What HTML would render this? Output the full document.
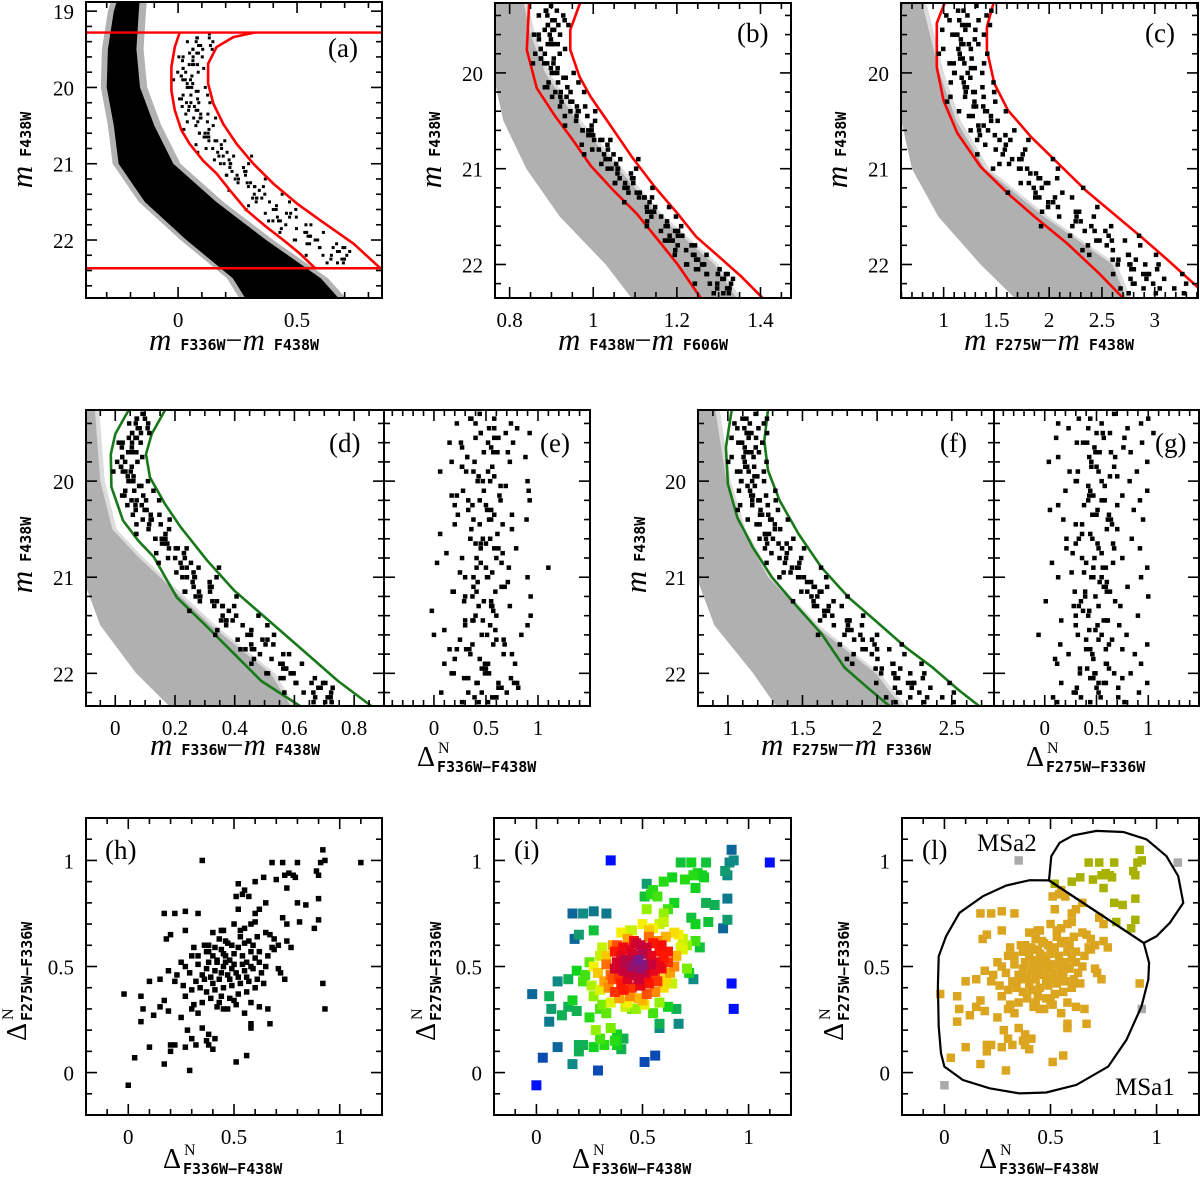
<!DOCTYPE html>
<html><head><meta charset="utf-8"><style>
html,body{margin:0;padding:0;background:#fff;}
svg{display:block;}
text{font-family:"Liberation Serif",serif;fill:#000;}
.tl{font-size:21px;}
.sub{font-family:"DejaVu Sans Mono","Liberation Mono",monospace;font-weight:bold;font-size:15px;}
.mi{font-style:italic;font-size:31px;}
.pl{font-size:27px;}
</style></head><body>
<svg id="fig" width="1200" height="1181" viewBox="0 0 1200 1181" xmlns="http://www.w3.org/2000/svg">
<defs id="defs"></defs>
<g id="root"></g>
</svg>
<script>
// ---------- data ----------
// stars: [mF438W, dN_F336W-F438W, dN_F275W-F336W]
const stars = [
[19.35,0.35,1.00],[20.9,1.10,0.99],[19.5,0.92,1.05],[21.2,0.93,1.00],[20.1,0.91,0.99],[21.7,0.68,0.99],[19.8,0.73,0.99],[22.1,0.80,0.99],[20.4,0.89,0.95],[21.0,0.90,0.93],[19.6,0.76,0.94],[21.9,0.78,0.93],[20.7,0.79,0.92],[19.4,0.74,0.93],[22.2,0.70,0.91],[20.2,0.64,0.92],[21.4,0.60,0.90],[19.9,0.52,0.89],[20.6,0.54,0.84],[21.8,0.75,0.87],[19.7,0.57,0.83],[22.0,0.51,0.83],[20.3,0.55,0.86],[21.1,0.65,0.80],[19.45,0.80,0.80],[21.6,0.84,0.79],[20.0,0.90,0.82],[22.3,0.52,0.77],[20.8,0.60,0.75],[19.55,0.62,0.77],[21.3,0.73,0.73],[20.5,0.75,0.70],[22.15,0.81,0.71],[19.75,0.88,0.68],[21.5,0.90,0.72],
[20.15,0.17,0.75],[21.75,0.22,0.75],[19.65,0.27,0.76],[22.05,0.33,0.75],[20.45,0.20,0.65],[21.15,0.18,0.63],[19.85,0.27,0.67],[21.45,0.38,0.60],[20.65,0.40,0.66],[19.3,0.44,0.67],[21.95,0.46,0.62],[20.25,0.50,0.70],[21.25,0.55,0.68],[19.95,0.58,0.70],[22.25,0.60,0.71],[20.85,0.65,0.66],[21.65,0.67,0.65],[19.5,0.69,0.63],[20.35,0.75,0.62],[21.05,0.71,0.60],[22.1,0.77,0.59],[20.05,0.69,0.58],
[21.35,-0.02,0.37],[20.55,0.06,0.36],[22.2,0.07,0.30],[19.9,0.06,0.24],[21.55,0.10,0.43],[20.75,0.12,0.27],[19.6,0.15,0.31],[22.0,0.17,0.34],[21.15,0.19,0.29],[20.25,0.20,0.13],[21.85,0.20,0.10],[19.4,0.22,0.13],[20.95,0.25,0.26],[22.3,0.27,0.12],[20.1,0.28,0.20],[21.45,0.30,0.16],[19.75,0.32,0.13],[20.6,0.35,0.21],[21.7,0.37,0.15],[20.4,0.38,0.18],[22.1,0.41,0.16],[19.55,0.40,0.11],[21.0,0.38,0.13],[20.85,0.03,0.07],[21.9,0.10,0.12],[19.8,0.17,0.04],[21.25,0.29,0.01],[20.3,0.51,0.05],[22.25,0.56,0.08],[21.6,0.00,-0.06],[20.7,0.58,0.21],[19.45,0.58,0.23],[21.8,0.67,0.23],[20.2,0.92,0.42],[21.4,0.93,0.30],[22.05,0.74,0.44],[19.7,0.71,0.49],[20.9,0.72,0.47],[21.1,0.68,0.59],[20.45,0.66,0.30],[22.15,0.62,0.31],[19.35,0.58,0.33],[21.3,0.55,0.28],[20.65,0.45,0.30],[21.95,0.50,0.34],[20.0,0.42,0.31],[21.5,0.30,0.30],[19.9,0.31,0.32],[22.2,0.33,0.28],[20.8,0.27,0.36],[21.2,0.30,0.39],[19.6,0.26,0.41],[20.35,0.23,0.46],[21.65,0.25,0.52],[22.0,0.19,0.48],[20.15,0.22,0.43],[21.0,0.30,0.55],[19.85,0.27,0.50],[21.75,0.15,0.44],
[20.5,0.36,0.60],[21.1,0.38,0.57],[19.4,0.40,0.55],[22.1,0.42,0.52],[20.2,0.44,0.58],[21.6,0.46,0.55],[19.7,0.48,0.53],[20.9,0.50,0.56],[21.9,0.52,0.59],[20.0,0.54,0.55],[21.3,0.56,0.52],[19.55,0.58,0.57],[22.25,0.60,0.54],[20.7,0.62,0.52],[21.45,0.47,0.61],[19.95,0.43,0.63],[20.4,0.53,0.64],[21.7,0.57,0.62],[22.0,0.49,0.49],[19.5,0.45,0.50],[20.8,0.41,0.48],[21.2,0.37,0.49],[20.3,0.33,0.51],[21.8,0.35,0.46],[19.8,0.39,0.45],[22.3,0.43,0.44],[20.6,0.47,0.46],[21.0,0.51,0.47],[19.65,0.55,0.48],[21.55,0.59,0.49],[20.15,0.63,0.47],[22.15,0.65,0.50],[20.55,0.61,0.44],[21.35,0.57,0.43],[19.45,0.53,0.42],[21.95,0.49,0.41],[20.85,0.45,0.40],[21.15,0.41,0.39],[20.25,0.37,0.38],[21.75,0.34,0.40],[19.75,0.32,0.43],[22.05,0.29,0.47],[20.45,0.44,0.36],[21.25,0.48,0.35],[19.6,0.52,0.37],[20.95,0.56,0.38],[21.65,0.60,0.40],[20.05,0.64,0.42],[22.2,0.46,0.52],[20.65,0.50,0.51],[21.05,0.42,0.53],[19.9,0.38,0.52],[21.5,0.54,0.51],[20.35,0.58,0.50],[22.1,0.62,0.57],[20.75,0.66,0.55],[21.4,0.40,0.42],[19.35,0.36,0.44],[21.85,0.44,0.47],[20.1,0.48,0.44],[21.0,0.52,0.45],[19.85,0.56,0.45],[22.25,0.39,0.35],[20.6,0.35,0.33],[21.3,0.43,0.33],[20.0,0.47,0.30],[21.6,0.51,0.32],[19.5,0.45,0.56],[20.9,0.41,0.59],[21.9,0.49,0.60],[20.4,0.55,0.61],[21.15,0.59,0.60],[19.7,0.61,0.64],[22.0,0.53,0.67],[20.7,0.45,0.67],[21.45,0.37,0.57],[20.2,0.33,0.55],[21.75,0.31,0.59]
];
// fiducial lines [mag, color]
const aBlueMag=[19.28,19.47,19.73,20.04,20.30,20.56,20.74,20.96,21.13,21.35,21.61,21.83,22.00,22.18,22.37];
const aBlueCol=[0.007,-0.014,-0.028,-0.028,-0.014,0.014,0.049,0.105,0.162,0.218,0.288,0.372,0.442,0.513,0.576];
const aRedMag=[19.28,19.34,19.47,19.69,19.95,20.21,20.48,20.74,21.0,21.26,21.52,21.74,22.05,22.37];
const aRedCol=[0.323,0.232,0.162,0.126,0.126,0.148,0.19,0.246,0.316,0.4,0.499,0.597,0.738,0.85];
const aCuts=[19.28,22.37];
const aMsMag=[18.8,19.0,19.5,20.0,20.5,21.0,21.5,22.0,22.5,22.85];
const aMsLo=[-0.25,-0.27,-0.295,-0.3,-0.27,-0.25,-0.14,0.035,0.23,0.3];
const aMsHi=[-0.16,-0.165,-0.175,-0.16,-0.1,-0.02,0.16,0.37,0.6,0.7];

const bLMag=[19.24,19.76,20.16,20.44,20.70,20.97,21.23,21.47,21.76,22.0,22.35];
const bLCol=[0.847,0.841,0.865,0.907,0.951,0.994,1.049,1.104,1.158,1.202,1.257];
const bRMag=[19.24,19.55,19.76,20.04,20.25,20.56,20.88,21.19,21.47,21.71,21.92,22.13,22.35];
const bRCol=[0.971,0.945,0.945,0.967,0.994,1.043,1.093,1.147,1.202,1.246,1.301,1.355,1.405];
const bMsMag=[19.2,19.6,20.0,20.5,21.0,21.5,22.0,22.4];
const bMsLo=[0.76,0.76,0.76,0.785,0.84,0.92,1.03,1.1];
const bMsHi=[0.83,0.85,0.885,0.96,1.06,1.16,1.29,1.35];

const cLMag=[19.24,19.48,19.94,20.29,20.63,20.98,21.26,21.51,21.78,22.1,22.35];
const cLCol=[1.02,0.935,0.935,1.0,1.13,1.35,1.61,1.87,2.17,2.48,2.70];
const cRMag=[19.24,19.52,19.76,20.11,20.39,20.67,20.95,21.23,21.47,21.71,21.96,22.24,22.4];
const cRCol=[1.48,1.41,1.41,1.48,1.61,1.83,2.09,2.35,2.61,2.87,3.13,3.41,3.55];
const cMsMag=[19.2,20.0,20.5,21.0,21.5,22.0,22.4];
const cMsLo=[0.59,0.59,0.6,0.7,0.95,1.35,1.72];
const cMsHi=[0.78,0.96,1.12,1.39,1.95,2.6,2.75];

const dLMag=[19.26,19.51,19.72,20.06,20.41,20.62,20.79,21.21,21.52,21.80,22.08,22.35];
const dLCol=[0.045,0,-0.015,-0.013,0.026,0.077,0.129,0.206,0.309,0.399,0.489,0.624];
const dRMag=[19.26,19.51,19.72,19.96,20.24,20.48,20.83,21.14,21.45,21.80,22.08,22.35];
const dRCol=[0.167,0.122,0.103,0.116,0.167,0.219,0.309,0.399,0.514,0.643,0.746,0.862];
const dMsMag=[19.2,20.0,20.5,20.8,21.0,21.5,22.0,22.4];
const dMsLo=[-0.11,-0.11,-0.11,-0.11,-0.11,-0.05,0.07,0.2];
const dMsHi=[-0.07,-0.05,-0.01,0.08,0.15,0.32,0.52,0.6];

const fLMag=[19.26,19.65,20.03,20.38,20.69,21.0,21.28,21.59,21.94,22.15,22.35];
const fLCol=[1.026,0.987,1.0,1.064,1.167,1.295,1.449,1.628,1.782,1.936,2.09];
const fRMag=[19.26,19.58,19.89,20.2,20.55,20.9,21.21,21.45,21.73,21.94,22.18,22.35];
const fRCol=[1.269,1.244,1.269,1.346,1.474,1.628,1.808,1.987,2.192,2.372,2.551,2.692];
const fMsMag=[19.2,20.0,20.5,21.0,21.5,22.0,22.4];
const fMsLo=[0.79,0.79,0.79,0.79,0.91,1.17,1.35];
const fMsHi=[0.91,0.99,1.09,1.27,1.58,1.99,2.19];

const msa1X=[0.493,0.402,0.291,0.181,0.071,0.008,-0.027,-0.031,-0.027,-0.016,0,0.087,0.213,0.354,0.48,0.622,0.772,0.858,0.929,0.961,0.965,0.940];
const msa1Y=[0.906,0.907,0.882,0.831,0.753,0.643,0.548,0.406,0.217,0.091,0.028,-0.035,-0.074,-0.098,-0.094,-0.058,0.028,0.154,0.312,0.438,0.517,0.611];
const msa2X=[0.493,0.504,0.543,0.606,0.717,0.843,0.953,1.047,1.102,1.126,1.063,1.0,0.940];
const msa2Y=[0.906,1.020,1.083,1.118,1.139,1.134,1.099,1.020,0.926,0.8,0.706,0.643,0.611];

const cmdTicks=['19','20','21','22'];
const deltaTicks=['0','0.5','1'];

// ---------- helpers ----------
const NS='http://www.w3.org/2000/svg';
const root=document.getElementById('root');
const defs=document.getElementById('defs');
function mk(tag,attrs,parent){const e=document.createElementNS(NS,tag);for(const k in attrs)e.setAttribute(k,attrs[k]);(parent||root).appendChild(e);return e;}
function interp(xs,ys,v){if(v<=xs[0])return ys[0]+(ys[1]-ys[0])*(v-xs[0])/(xs[1]-xs[0]);const n=xs.length;if(v>=xs[n-1])return ys[n-1]+(ys[n-1]-ys[n-2])*(v-xs[n-1])/(xs[n-1]-xs[n-2]);for(let i=1;i<n;i++){if(v<=xs[i]){const t=(v-xs[i-1])/(xs[i]-xs[i-1]);return ys[i-1]+t*(ys[i]-ys[i-1]);}}}

const panels={
 a:{box:[86,2,382,298],x:[-0.387,0.857],y:[18.88,22.76],xs:0.1,xm:0.5,ys:0.2,ym:1,xl:['0','0.5'],yl:cmdTicks},
 b:{box:[495,3,791,298],x:[0.765,1.473],y:[19.27,22.35],xs:0.05,xm:0.2,ys:0.2,ym:1,xl:['0.8','1','1.2','1.4'],yl:cmdTicks.slice(1)},
 c:{box:[901,3,1198,298],x:[0.596,3.41],y:[19.27,22.35],xs:0.1,xm:0.5,ys:0.2,ym:1,xl:['1','1.5','2','2.5','3'],yl:cmdTicks.slice(1)},
 d:{box:[86,410,384,706],x:[-0.098,0.9],y:[19.26,22.34],xs:0.05,xm:0.2,ys:0.2,ym:1,xl:['0','0.2','0.4','0.6','0.8'],yl:cmdTicks.slice(1)},
 e:{box:[384,410,590,706],x:[-0.48,1.5],y:[19.26,22.34],xs:0.1,xm:0.5,ys:0.2,ym:1,xl:deltaTicks,yl:[]},
 f:{box:[698,410,994,706],x:[0.8,2.783],y:[19.26,22.34],xs:0.1,xm:0.5,ys:0.2,ym:1,xl:['1','1.5','2','2.5'],yl:cmdTicks.slice(1)},
 g:{box:[994,410,1199,706],x:[-0.49,1.49],y:[19.26,22.34],xs:0.1,xm:0.5,ys:0.2,ym:1,xl:deltaTicks,yl:[]},
 h:{box:[86,818,382,1115],x:[-0.2,1.2],y:[1.2,-0.2],xs:0.1,xm:0.5,ys:0.1,ym:0.5,xl:deltaTicks,yl:deltaTicks},
 i:{box:[494,818,791,1115],x:[-0.2,1.2],y:[1.2,-0.2],xs:0.1,xm:0.5,ys:0.1,ym:0.5,xl:deltaTicks,yl:deltaTicks},
 l:{box:[902,818,1199,1115],x:[-0.2,1.2],y:[1.2,-0.2],xs:0.1,xm:0.5,ys:0.1,ym:0.5,xl:deltaTicks,yl:deltaTicks}
};
for(const k in panels){const p=panels[k];const [x0,y0,x1,y1]=p.box;
 p.sx=v=>x0+(v-p.x[0])/(p.x[1]-p.x[0])*(x1-x0);
 p.sy=v=>y0+(v-p.y[0])/(p.y[1]-p.y[0])*(y1-y0);
 const cp=mk('clipPath',{id:'clip-'+k},defs);mk('rect',{x:x0,y:y0,width:x1-x0,height:y1-y0},cp);
 p.g=mk('g',{'clip-path':'url(#clip-'+k+')'});
 
 
}
function band(p,mags,lo,hi,fill,op,name){
 let d='';mags.forEach((m,i)=>{d+=(i?'L':'M')+p.sx(lo[i]).toFixed(1)+','+p.sy(m).toFixed(1);});
 for(let i=mags.length-1;i>=0;i--)d+='L'+p.sx(hi[i]).toFixed(1)+','+p.sy(mags[i]).toFixed(1);
 const e=mk('path',{d:d+'Z',fill:fill,'fill-opacity':op},p.g);
 
 
}
function line(p,ys,xs,color,name){
 let d='';ys.forEach((m,i)=>{d+=(i?'L':'M')+p.sx(xs[i]).toFixed(1)+','+p.sy(m).toFixed(1);});
 const e=mk('path',{d:d,fill:'none',stroke:color,'stroke-width':2.6,'stroke-linejoin':'round'},p.g);
 
 
}
function sq(p,x,y,s,color,name){
 const e=mk('rect',{x:(p.sx(x)-s/2).toFixed(1),y:(p.sy(y)-s/2).toFixed(1),width:s,height:s,fill:color},p.g);
 
 
 return e;
}
function frame(k){const p=panels[k];const [x0,y0,x1,y1]=p.box;
 const g=mk('g',{stroke:'#000','stroke-width':1.6,fill:'none'});
 
 
 mk('rect',{x:x0,y:y0,width:x1-x0,height:y1-y0,'stroke-width':2},g);
 const isMaj=(v,m)=>Math.abs(v/m-Math.round(v/m))<1e-6;
 for(let v=Math.ceil(p.x[0]/p.xs-1e-9)*p.xs;v<=p.x[1]+1e-9;v+=p.xs){const X=p.sx(v);const L=isMaj(v,p.xm)?11:6;
  mk('line',{x1:X,x2:X,y1:y1,y2:y1-L},g);mk('line',{x1:X,x2:X,y1:y0,y2:y0+L},g);}
 const ya=Math.min(p.y[0],p.y[1]),yb=Math.max(p.y[0],p.y[1]);
 for(let v=Math.ceil(ya/p.ys-1e-9)*p.ys;v<=yb+1e-9;v+=p.ys){const Y=p.sy(v);const L=isMaj(v,p.ym)?11:6;
  mk('line',{x1:x0,x2:x0+L,y1:Y,y2:Y},g);mk('line',{x1:x1,x2:x1-L,y1:Y,y2:Y},g);}
 p.xl.forEach(s=>{const t=mk('text',{x:p.sx(parseFloat(s)),y:y1+29,'text-anchor':'middle',class:'tl'});t.textContent=s;
  });
 p.yl.forEach(s=>{const t=mk('text',{x:x0-12,y:p.sy(parseFloat(s))+8,'text-anchor':'end',class:'tl'});t.textContent=s;
  });
}
function plabel(k,x,y,s){const t=mk('text',{x:x,y:y,class:'pl'});t.textContent=s;
 }
function magTitle(cx,cy){
 const t=mk('text',{transform:'translate('+cx+','+cy+') rotate(-90)','text-anchor':'middle'});
 
 t.innerHTML='<tspan class="mi">m</tspan><tspan class="sub" dy="-1"> F438W</tspan>';}
function colTitle(cx,y,a,b){
 const t=mk('text',{x:cx,y:y,'text-anchor':'middle'});
 
 t.innerHTML='<tspan class="mi">m</tspan><tspan class="sub"> '+a+'</tspan><tspan style="font-size:30px">−</tspan><tspan class="mi">m</tspan><tspan class="sub"> '+b+'</tspan>';}
function deltaTitle(cx,y,sub,rot){
 const g=mk('g',{transform:rot?'translate('+cx+','+y+') rotate(-90)':'translate('+cx+','+y+')'});
 
 const w=110;
 const t1=mk('text',{x:-w/2-20,y:0,'font-size':'28px'},g);t1.textContent='Δ';
 const t2=mk('text',{x:-w/2+1,y:-13,'font-size':'16px'},g);t2.textContent='N';
 const t3=mk('text',{x:-w/2,y:6,class:'sub'},g);t3.textContent=sub;
}

// ---------- panel a ----------
{const p=panels.a;
 band(p,aMsMag,aMsLo.map(v=>v-0.025),aMsHi.map(v=>v+0.03),'#000',0.3,'main-sequence-halo');
 band(p,aMsMag,aMsLo,aMsHi,'#000',1,'main-sequence-band');
 stars.forEach(s=>{const L=interp(aBlueMag,aBlueCol,s[0]),R=interp(aRedMag,aRedCol,s[0]);sq(p,L+s[1]*(R-L),s[0],3,'#000','star-point');});
 line(p,aBlueMag,aBlueCol,'#ff0000','selection-line-blue');
 line(p,aRedMag,aRedCol,'#ff0000','selection-line-red');
 aCuts.forEach(m=>{const e=mk('line',{x1:86,x2:382,y1:p.sy(m),y2:p.sy(m),stroke:'#ff0000','stroke-width':2.4},p.g);
  });
}
// ---------- b,c,d,f ----------
function cmd(k,msM,lo,hi,LM,LC,RM,RC,di,lc){const p=panels[k];
 band(p,msM,lo,hi.map(v=>v+0.015*(p.x[1]-p.x[0])),'#c4c4c4',0.6,'gray-sequence-halo');
 band(p,msM,lo,hi,'#b0b0b0',1,'gray-sequence-band');
 line(p,LM,LC,lc,'fiducial-line-blue');line(p,RM,RC,lc,'fiducial-line-red');
 stars.forEach(s=>{const L=interp(LM,LC,s[0]),R=interp(RM,RC,s[0]);sq(p,L+s[di]*(R-L),s[0],4.5,'#000','star-point');});
}
cmd('b',bMsMag,bMsLo,bMsHi,bLMag,bLCol,bRMag,bRCol,1,'#ff0000');
cmd('c',cMsMag,cMsLo,cMsHi,cLMag,cLCol,cRMag,cRCol,2,'#ff0000');
cmd('d',dMsMag,dMsLo,dMsHi,dLMag,dLCol,dRMag,dRCol,1,'#18781a');
cmd('f',fMsMag,fMsLo,fMsHi,fLMag,fLCol,fRMag,fRCol,2,'#18781a');
// ---------- e,g ----------
stars.forEach(s=>{sq(panels.e,s[1],s[0],4.5,'#000','star-point');sq(panels.g,s[2],s[0],4.5,'#000','star-point');});
// ---------- h ----------
stars.forEach(s=>sq(panels.h,s[1],s[2],5.5,'#000','star-point'));
// ---------- i (density colored) ----------
const cmapPos=[0,0.12,0.25,0.38,0.5,0.6,0.7,0.8,0.9,1];
const cmapCol=['#0010ff','#0c5aa0','#109080','#12d818','#8cf000','#f4f400','#ff9c00','#ff1000','#d00030','#7c1888'];
function hex2(c){return [1,3,5].map(i=>parseInt(c.substr(i,2),16));}
function cmap(t){for(let i=1;i<cmapPos.length;i++){if(t<=cmapPos[i]){const u=(t-cmapPos[i-1])/(cmapPos[i]-cmapPos[i-1]);const a=hex2(cmapCol[i-1]),b=hex2(cmapCol[i]);return 'rgb('+a.map((v,j)=>Math.round(v+u*(b[j]-v))).join(',')+')';}}return cmapCol[cmapCol.length-1];}
{const dens=stars.map(s=>stars.filter(o=>Math.abs(o[1]-s[1])<0.1&&Math.abs(o[2]-s[2])<0.1).length);
 const mx=Math.max(...dens);
 const ord=stars.map((s,i)=>i).sort((a,b)=>dens[a]-dens[b]);
 ord.forEach(i=>sq(panels.i,stars[i][1],stars[i][2],10,cmap(Math.pow((dens[i]-1)/(mx-1),0.65)),'density-point'));
}
// ---------- l ----------
function inPoly(x,y,X,Y){let c=false;for(let i=0,j=X.length-1;i<X.length;j=i++){if(((Y[i]>y)!=(Y[j]>y))&&(x<(X[j]-X[i])*(y-Y[i])/(Y[j]-Y[i])+X[i]))c=!c;}return c;}
{const p=panels.l;
 stars.forEach(s=>{const c=inPoly(s[1],s[2],msa2X,msa2Y)?'#a8b000':(inPoly(s[1],s[2],msa1X,msa1Y)?'#dca520':'#aaaaaa');sq(p,s[1],s[2],8.5,c,'population-point');});
 [[msa1X,msa1Y,'msa1-boundary'],[msa2X,msa2Y,'msa2-boundary']].forEach(([X,Y,n])=>{
  const e=mk('polygon',{points:X.map((x,i)=>p.sx(x).toFixed(1)+','+p.sy(Y[i]).toFixed(1)).join(' '),fill:'none',stroke:'#000','stroke-width':2.2},p.g);
  });
 let t=mk('text',{x:977,y:851,'font-size':'25px'});t.textContent='MSa2';
 t=mk('text',{x:1115,y:1095,'font-size':'25px'});t.textContent='MSa1';
}
// ---------- frames, labels ----------
for(const k in panels)frame(k);
plabel('a',328,57,'(a)');plabel('b',737,42,'(b)');plabel('c',1145,42,'(c)');
plabel('d',329,452,'(d)');plabel('e',540,452,'(e)');plabel('f',940,452,'(f)');plabel('g',1155,452,'(g)');
plabel('h',105,859,'(h)');plabel('i',514,859,'(i)');plabel('l',922,859,'(l)');
magTitle(32,150);magTitle(441,150);magTitle(847,150);magTitle(32,555);magTitle(646,555);
colTitle(234,350,'F336W','F438W');colTitle(643,350,'F438W','F606W');colTitle(1049,350,'F275W','F438W');
colTitle(235,755,'F336W','F438W');colTitle(846,755,'F275W','F336W');
deltaTitle(492,766,'F336W−F438W',false);deltaTitle(1101,766,'F275W−F336W',false);
deltaTitle(238,1168,'F336W−F438W',false);deltaTitle(647,1168,'F336W−F438W',false);deltaTitle(1054,1168,'F336W−F438W',false);
deltaTitle(26,966,'F275W−F336W',true);deltaTitle(435,966,'F275W−F336W',true);deltaTitle(843,966,'F275W−F336W',true);
</script>
</body></html>
